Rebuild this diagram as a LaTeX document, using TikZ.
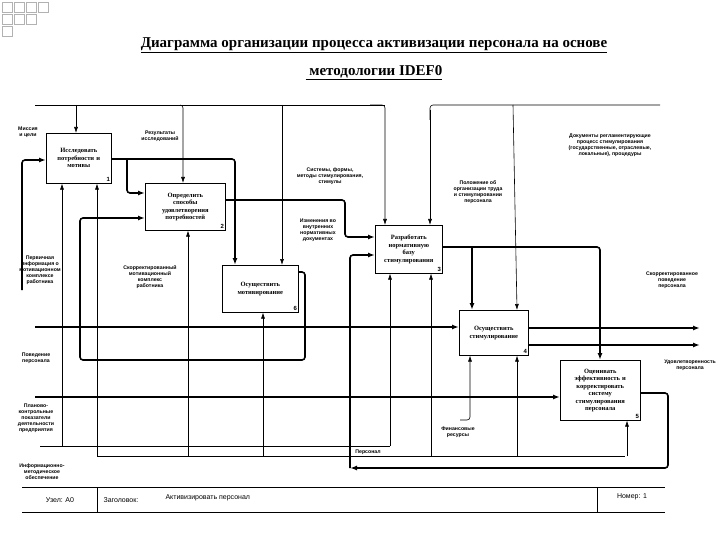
\documentclass[tikz,border=0pt]{standalone}
\usepackage{fontspec}
\setmainfont{Liberation Sans}
\newfontfamily\ttl{Liberation Serif}
\usetikzlibrary{arrows.meta}
\begin{document}
\begin{tikzpicture}[x=1pt,y=-1pt,
  box/.style={draw,line width=0.6pt,anchor=north west,inner sep=1pt,align=center,font=\fontsize{6.5}{7.5}\selectfont\ttl\bfseries},
  num/.style={font=\fontsize{6}{7}\selectfont\bfseries,anchor=south east,inner sep=1.5pt},
  lab/.style={align=center,font=\fontsize{5.2}{6}\selectfont\bfseries,inner sep=0pt},
  th/.style={line width=1.6pt,rounded corners=3pt,-{Latex[length=7pt,width=5pt]}},
  tn/.style={line width=0.6pt,rounded corners=3pt,-{Latex[length=6pt,width=4pt]}},
  tl/.style={line width=0.6pt,rounded corners=3pt},
  sq/.style={draw=gray!60,line width=0.8pt}]
\useasboundingbox (0,0) rectangle (720,540);
% decorative squares
\foreach \x/\y in {2/2,14/2,26/2,38/2,2/14,14/14,2/26,26/14}{\draw[sq] (\x,\y) rectangle ++(10,10);}
% title
\node[font=\fontsize{15}{17}\selectfont\ttl\bfseries] (t1) at (374,45) {\underline{Диаграмма организации процесса активизации персонала на основе}};
\node[font=\fontsize{15}{17}\selectfont\ttl\bfseries] (t2) at (374,73) {\underline{ методологии IDEF0}};
% boxes
\node[box,minimum width=65,minimum height=50,text width=60] (b1) at (46,133) {Исследовать\\потребности и\\мотивы};
\node[num] at (b1.south east) {1};
\node[box,minimum width=80,minimum height=47,text width=75] (b2) at (145,183) {Определить\\способы\\удовлетворения\\потребностей};
\node[num] at (b2.south east) {2};
\node[box,minimum width=67,minimum height=48,text width=62] (b3) at (375,225) {Разработать\\нормативную\\базу\\стимулирования};
\node[num] at (b3.south east) {3};
\node[box,minimum width=76,minimum height=47,text width=70] (b6) at (222,265) {Осуществить\\мотивирование};
\node[num] at (b6.south east) {6};
\node[box,minimum width=69,minimum height=45,text width=64] (b4) at (459,310) {Осуществить\\стимулирование};
\node[num] at (b4.south east) {4};
\node[box,minimum width=80,minimum height=60,text width=75] (b5) at (560,360) {Оценивать\\эффективность и\\корректировать\\систему\\стимулирования\\персонала};
\node[num] at (b5.south east) {5};
% top controls
\coordinate (m0) at (35,105);
\draw[tl] (m0) -- (385,105);
\draw[tn] (76,105) -- (b1.north -| 76,0);
\draw[tn] (180,105) -- (183,105) -- (b2.north -| 183,0);
\draw[tn] (282,105) -- (b6.north -| 282,0);
\draw[tn] (370,105) -- (385,105) -- (b3.north -| 385,0);
\coordinate (d0) at (660,105);
\draw[tl] (d0) -- (430,105) -- (430,120);
\draw[tn] (430,110) -- (b3.north -| 430,0);
\draw[tn] (513,105) -- (b4.north -| 517,0);
% box1 outputs
\draw[th] (b1.east |- 0,159) -- (235,159) -- (b6.north -| 235,0);
\draw[th] (127,159) -- (127,193) -- (b2.west |- 0,193);
% box2 output
\draw[th] (b2.east |- 0,200) -- (345,200) -- (345,237) -- (b3.west |- 0,237);
% box3 second input
\draw[th] (350,468) -- (350,255) -- (b3.west |- 0,255);
% box6 feedback
\draw[th] (b6.east |- 0,272) -- (305,272) -- (305,360) -- (80,360) -- (80,218) -- (b2.west |- 0,218);
% box3 outputs
\draw[th] (b3.east |- 0,247) -- (600,247) -- (b5.north -| 600,0);
\draw[th] (472,247) -- (b4.north -| 472,0);
% box4 outputs
\coordinate (o1) at (700,328);
\coordinate (o2) at (700,345);
\draw[th] (b4.east |- 0,328) -- (o1);
\draw[th] (b4.east |- 0,345) -- (o2);
% inputs left
\coordinate (i1) at (22,290);
\draw[th] (i1) -- (22,160) -- (b1.west |- 0,160);
\coordinate (i2) at (35,327);
\draw[th] (i2) -- (b4.west |- 0,327);
\coordinate (i3) at (35,397);
\draw[th] (i3) -- (b5.west |- 0,397);
% box5 feedback
\draw[th] (b5.east |- 0,393) -- (668,393) -- (668,468) -- (350,468);
% mechanisms
\coordinate (mm) at (40,446);
\draw[tl] (mm) -- (390,446);
\draw[tn] (62,446) -- (b1.south -| 62,0);
\draw[tn] (390,446) -- (b3.south -| 390,0);
\coordinate (pp) at (97,456);
\draw[tl] (pp) -- (625,456);
\draw[tn] (97,456) -- (b1.south -| 97,0);
\draw[tn] (188,456) -- (b2.south -| 188,0);
\draw[tn] (263,456) -- (b6.south -| 263,0);
\draw[tn] (431,456) -- (b3.south -| 431,0);
\draw[tn] (517,456) -- (b4.south -| 517,0);
\draw[tn] (627,456) -- (b5.south -| 627,0);
\coordinate (ff) at (460,420);
\draw[tn] (ff) -- (470,420) -- (b4.south -| 470,0);
% labels
\node[lab] (l1) at (28,132) {Миссия\\и цели};
\node[lab] (l2) at (160,136) {Результаты\\исследований};
\node[lab] (l3) at (330,176) {Системы, формы,\\методы стимулирования,\\стимулы};
\node[lab] (l4) at (318,230) {Изменения во\\внутренних\\нормативных\\документах};
\node[lab] (l5) at (150,277) {Скорректированный\\мотивационный\\комплекс\\работника};
\node[lab] (l6) at (478,192) {Положение об\\организации труда\\и стимулировании\\персонала};
\node[lab] (l7) at (610,145) {Документы регламентирующие\\процесс стимулирования\\(государственные, отраслевые,\\локальные), процедуры};
\node[lab] (l8) at (40,270) {Первичная\\информация о\\мотивационном\\комплексе\\работника};
\node[lab] (l9) at (672,280) {Скорректированное\\поведение\\персонала};
\node[lab] (l10) at (690,365) {Удовлетворенность\\персонала};
\node[lab] (l11) at (36,358) {Поведение\\персонала};
\node[lab] (l12) at (36,418) {Планово-\\контрольные\\показатели\\деятельности\\предприятия};
\node[lab] (l13) at (42,472) {Информационно-\\методическое\\обеспечение};
\node[lab] (l14) at (368,452) {Персонал};
\node[lab] (l15) at (458,432) {Финансовые\\ресурсы};
% footer
\draw[line width=0.6pt] (22,487) -- (665,487);
\draw[line width=0.6pt] (22,512) -- (665,512);
\draw[line width=0.6pt] (97,487) -- (97,512);
\draw[line width=0.6pt] (597,487) -- (597,512);
\node[font=\fontsize{7}{8}\selectfont] (f1) at (60,500) {Узел: А0};
\node[font=\fontsize{7}{8}\selectfont,anchor=west] (f2) at (100,500) {Заголовок:};
\node[font=\fontsize{7}{8}\selectfont,anchor=west] (f3) at (162,498) {Активизировать персонал};
\node[font=\fontsize{7}{8}\selectfont] (f4) at (632,497) {Номер: 1};
\end{tikzpicture}
\end{document}
